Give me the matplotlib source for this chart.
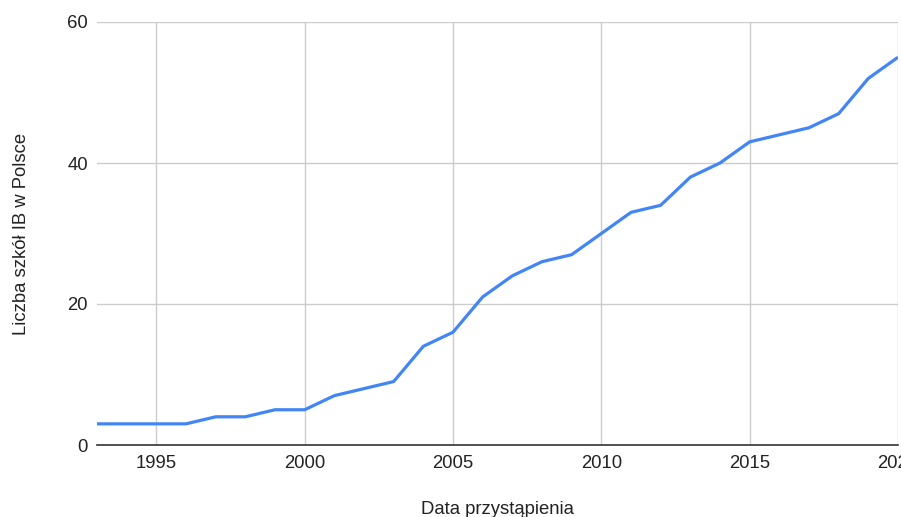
import matplotlib
matplotlib.use("Agg")
import matplotlib.pyplot as plt

plt.rcParams['font.family'] = ['Liberation Sans', 'DejaVu Sans']

years = [1993, 1994, 1995, 1996, 1997, 1998, 1999, 2000, 2001, 2002, 2003, 2004,
         2005, 2006, 2007, 2008, 2009, 2010, 2011, 2012, 2013, 2014, 2015, 2016,
         2017, 2018, 2019, 2020]
schools = [3, 3, 3, 3, 4, 4, 5, 5, 7, 8, 9, 14,
           16, 21, 24, 26, 27, 30, 33, 34, 38, 40, 43, 44,
           45, 47, 52, 55]
x_ticks = [1995, 2000, 2005, 2010, 2015, 2020]
y_ticks = [0, 20, 40, 60]

fig = plt.figure(figsize=(9.01, 5.17), dpi=100)
ax = fig.add_axes([97/901, 1-445/517, (898-97)/901, (445-22)/517])

ax.plot(years, schools, color='#4285F4', linewidth=2.3, solid_joinstyle='round',
        solid_capstyle='butt', zorder=3)

ax.set_xlim(1993, 2020)
ax.set_ylim(0, 60)
ax.set_xticks(x_ticks)
ax.set_yticks(y_ticks)
ax.grid(True, color='#cccccc', linewidth=1.0, zorder=0)
for s in ['left', 'top', 'right']:
    ax.spines[s].set_visible(False)
ax.spines['bottom'].set_color('#333333')
ax.spines['bottom'].set_linewidth(1.2)
ax.spines['bottom'].set_zorder(4)
ax.tick_params(axis='both', length=0, labelsize=13.3, colors='#222222')
ax.tick_params(axis='x', pad=7)
ax.tick_params(axis='y', pad=6.5)

ax.set_xlabel('Data przystąpienia', fontsize=13.3, color='#222222', labelpad=21)
ax.set_ylabel('Liczba szkół IB w Polsce', fontsize=13.3, color='#222222', labelpad=27)

fig.savefig('out.png', dpi=100)
